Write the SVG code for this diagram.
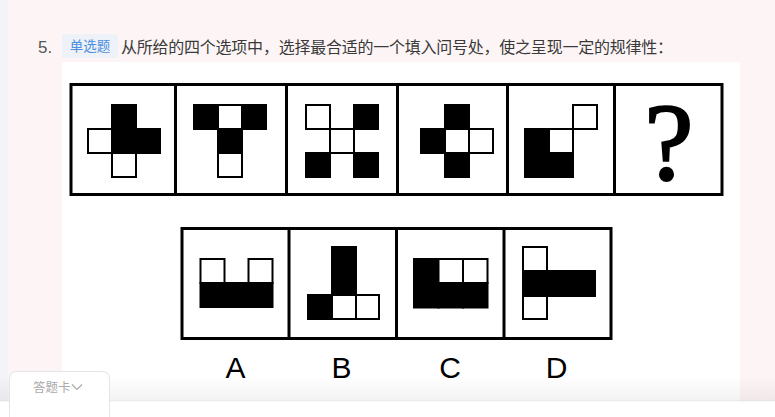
<svg xmlns="http://www.w3.org/2000/svg" width="775" height="417" viewBox="0 0 775 417">
<defs>
<linearGradient id="shade" x1="0" y1="0" x2="0" y2="1">
<stop offset="0" stop-color="#000" stop-opacity="0"/>
<stop offset="1" stop-color="#000" stop-opacity="0.05"/>
</linearGradient>
<style>
.frame{fill:none;stroke:#000;stroke-width:3}
.div{stroke:#000;stroke-width:3}
.b{fill:#000;stroke:#000;stroke-width:2}
.w{fill:#fff;stroke:#000;stroke-width:2}
.lbl{font-family:"Liberation Sans","Noto Sans",Arial,sans-serif;font-size:30px;fill:#000;text-anchor:middle}
.cjk{font-family:"Noto Sans CJK SC","Noto Sans",sans-serif}
</style>
</defs>
<rect x="0" y="0" width="775" height="417" fill="#fdf5f5"/>
<rect x="0" y="0" width="8" height="417" fill="#f3f4f7"/>
<rect x="62" y="62" width="678" height="340" fill="#fff"/>
<g id="header">
<text x="38" y="53" font-family="Liberation Sans,Arial,sans-serif" font-size="17" fill="#555">5.</text>
<rect x="62" y="34" width="56" height="24" rx="2" fill="#eef1f7"/>
<text x="90" y="51" class="cjk" font-size="13.5" fill="#4b8fe2" text-anchor="middle">单选题</text>
<text x="121" y="53" class="cjk" font-size="16" fill="#3a3a3a" textLength="552">从所给的四个选项中，选择最合适的一个填入问号处，使之呈现一定的规律性：</text>
</g>
<g id="question-row">
<rect class="frame" x="71" y="84.5" width="651" height="110"/>
<line class="div" x1="175.5" y1="84.5" x2="175.5" y2="194.5"/>
<line class="div" x1="286.5" y1="84.5" x2="286.5" y2="194.5"/>
<line class="div" x1="397.5" y1="84.5" x2="397.5" y2="194.5"/>
<line class="div" x1="507.5" y1="84.5" x2="507.5" y2="194.5"/>
<line class="div" x1="614.5" y1="84.5" x2="614.5" y2="194.5"/>
</g>
<g id="fig1">
<rect class="b" x="112" y="105" width="24" height="24"/>
<rect class="b" x="112" y="129" width="24" height="24"/>
<rect class="b" x="136" y="129" width="24" height="24"/>
<rect class="w" x="88" y="129" width="24" height="24"/>
<rect class="w" x="112" y="153" width="24" height="24"/>
</g>
<g id="fig2">
<rect class="b" x="194" y="105" width="24" height="24"/>
<rect class="b" x="242" y="105" width="24" height="24"/>
<rect class="b" x="218" y="129" width="24" height="24"/>
<rect class="w" x="218" y="105" width="24" height="24"/>
<rect class="w" x="218" y="153" width="24" height="24"/>
</g>
<g id="fig3">
<rect class="b" x="354" y="105" width="24" height="24"/>
<rect class="b" x="306" y="153" width="24" height="24"/>
<rect class="b" x="354" y="153" width="24" height="24"/>
<rect class="w" x="306" y="105" width="24" height="24"/>
<rect class="w" x="330" y="129" width="24" height="24"/>
</g>
<g id="fig4">
<rect class="b" x="445" y="105" width="24" height="24"/>
<rect class="b" x="421" y="129" width="24" height="24"/>
<rect class="b" x="445" y="153" width="24" height="24"/>
<rect class="w" x="445" y="129" width="24" height="24"/>
<rect class="w" x="469" y="129" width="24" height="24"/>
</g>
<g id="fig5">
<rect class="b" x="525" y="129" width="24" height="24"/>
<rect class="b" x="525" y="153" width="24" height="24"/>
<rect class="b" x="549" y="153" width="24" height="24"/>
<rect class="w" x="549" y="129" width="24" height="24"/>
<rect class="w" x="573" y="105" width="24" height="24"/>
</g>
<g id="fig6">
<text x="669" y="179" font-family="Liberation Serif,Times New Roman,serif" font-size="110" fill="#000" stroke="#000" stroke-width="2.2" text-anchor="middle">?</text>
</g>
<g id="options-row">
<rect class="frame" x="182" y="228.5" width="429" height="110"/>
<line class="div" x1="289" y1="228.5" x2="289" y2="338.5"/>
<line class="div" x1="396.5" y1="228.5" x2="396.5" y2="338.5"/>
<line class="div" x1="504" y1="228.5" x2="504" y2="338.5"/>
</g>
<g id="optA">
<rect class="b" x="200.5" y="283" width="24" height="24"/>
<rect class="b" x="224.5" y="283" width="24" height="24"/>
<rect class="b" x="248.5" y="283" width="24" height="24"/>
<rect class="w" x="200.5" y="259" width="24" height="24"/>
<rect class="w" x="248.5" y="259" width="24" height="24"/>
<text class="lbl" x="235.5" y="378">A</text>
</g>
<g id="optB">
<rect class="b" x="332" y="247" width="24" height="24"/>
<rect class="b" x="332" y="271" width="24" height="24"/>
<rect class="b" x="308" y="295" width="24" height="24"/>
<rect class="w" x="332" y="295" width="24" height="24"/>
<rect class="w" x="356" y="295" width="23" height="24"/>
<text class="lbl" x="341.5" y="378">B</text>
</g>
<g id="optC">
<rect class="b" x="414" y="259" width="24.5" height="24"/>
<rect class="b" x="414" y="283" width="24.5" height="24.5"/>
<rect class="b" x="438.5" y="283" width="24.5" height="24.5"/>
<rect class="b" x="463" y="283" width="24.5" height="24.5"/>
<rect class="w" x="438.5" y="259" width="24.5" height="24"/>
<rect class="w" x="463" y="259" width="24.5" height="24"/>
<text class="lbl" x="450" y="378">C</text>
</g>
<g id="optD">
<rect class="b" x="523" y="271" width="24" height="25"/>
<rect class="b" x="547" y="271" width="24" height="25"/>
<rect class="b" x="571" y="271" width="24" height="25"/>
<rect class="w" x="523" y="247" width="24" height="24"/>
<rect class="w" x="523" y="296" width="24" height="23"/>
<text class="lbl" x="556.5" y="378">D</text>
</g>
<g id="footer">
<rect x="0" y="376" width="775" height="25" fill="url(#shade)"/>
<line x1="0" y1="401" x2="775" y2="401" stroke="#e2e2e2" stroke-width="1"/>
<rect x="0" y="401.5" width="775" height="16" fill="#fff"/>
<path d="M9.5,417 V379 Q9.5,371.5 17,371.5 H102 Q109.5,371.5 109.5,379 V417" fill="#fff" stroke="#e4e4e4" stroke-width="1"/>
<text x="33" y="392" class="cjk" font-size="12.5" fill="#aaa">答题卡</text>
<path d="M72,384.5 L77,389.5 L82,384.5" fill="none" stroke="#aaa" stroke-width="1.2"/>
</g>
</svg>
